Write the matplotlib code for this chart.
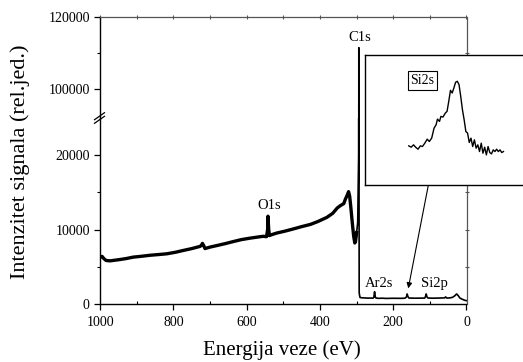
import matplotlib
matplotlib.use("Agg")
import matplotlib.pyplot as plt
from matplotlib.ticker import FixedLocator, NullLocator
from matplotlib.lines import Line2D

plt.rcParams['font.family'] = ['Liberation Serif', 'DejaVu Serif']

# ---- data ----
energy = [1000, 995, 990, 984, 973, 950, 930, 910, 890, 864, 840, 818, 795, 773,
          750, 727, 723, 721, 717, 714, 700, 682, 660, 636, 615, 591, 570, 555,
          546, 543, 542, 540, 538, 530, 517, 495, 472, 450, 426, 405, 381, 365,
          353, 345, 340, 335, 331, 326, 322, 319, 316, 312, 308, 305, 303, 300,
          297, 294.5, 294, 293.5, 293, 291, 289, 280, 270, 262, 255, 253,
          251, 249, 247, 240, 230, 220, 200, 180, 168, 164, 162, 160, 157, 140,
          125, 114, 112, 110, 108, 105, 90, 75, 60, 57, 54, 45, 38, 32, 27, 23,
          18, 12, 5, 0]
intensity = [6300, 6400, 6100, 5850, 5800, 5950, 6100, 6300, 6400, 6550, 6650,
             6750, 6950, 7200, 7450, 7750, 7950, 8150, 7800, 7450, 7650, 7850,
             8100, 8400, 8650, 8850, 9000, 9100, 9050, 10000, 11800, 10000, 9200,
             9350, 9550, 9800, 10100, 10400, 10700, 11100, 11650, 12200, 12900,
             13200, 13350, 13500, 14050, 14600, 15100, 14500, 13100, 11000, 9100,
             8200, 8400, 9600, 11000, 20000, 111500, 20000, 1500, 900, 850, 820,
             790, 800, 790, 900, 1650, 950, 800, 760, 780, 750, 770, 760, 780,
             950, 1350, 1000, 800, 780, 790, 800, 1000, 1350, 950, 800, 780, 800,
             820, 950, 800, 820, 900, 1100, 1350, 1150, 800, 650, 500, 450]

si2s_x = [38, 45, 52, 58, 65, 72, 78, 85, 92, 98, 105, 112, 118, 122, 128, 132,
          138, 145, 150, 155, 160, 165, 170, 175, 180, 185, 190, 195, 200, 205,
          210, 215, 220, 225, 230, 235, 240, 245, 250, 255, 260, 265, 270, 275,
          280, 285, 290, 295, 300, 305, 310, 315]
si2s_y = [132, 128, 135, 128, 122, 132, 130, 140, 152, 145, 155, 185, 195, 212,
          205, 220, 218, 230, 235, 265, 298, 290, 305, 322, 325, 315, 280, 240,
          210, 175, 170, 142, 155, 130, 150, 125, 135, 115, 140, 110, 128, 105,
          130, 112, 108, 120, 115, 122, 115, 120, 112, 115]

xticks = [1000, 800, 600, 400, 200, 0]
yticks_low = [0, 10000, 20000]
yticks_up = [100000, 120000]
labels = {"O1s": (540, 12300), "C1s": (292, 112500), "Ar2s": (238, 1900), "Si2p": (87, 1900)}

# ---- figure ----
W, H = 523, 362
fig = plt.figure(figsize=(W / 100, H / 100), dpi=100)

def fx(px):
    return px / W

def fy(py):
    return (H - py) / H

left, right = 99.5, 466.5
top, brk, bottom = 17, 118, 304
ax_low = fig.add_axes([fx(left), fy(bottom), fx(right) - fx(left), fy(brk) - fy(bottom)])
ax_up = fig.add_axes([fx(left), fy(brk), fx(right) - fx(left), fy(top) - fy(brk)])

hi = [i for i, e in enumerate(energy) if e >= 300]
lo = [i for i, e in enumerate(energy) if e <= 300]
for ax in (ax_low, ax_up):
    ax.plot([energy[i] for i in hi], [intensity[i] for i in hi], color='black', lw=2.4,
            solid_joinstyle='round')
    ax.plot([energy[i] for i in lo], [intensity[i] for i in lo], color='black', lw=1.2)
    ax.set_xlim(1002, 0)

ax_low.set_ylim(0, 25000)
ax_up.set_ylim(92000, 120000)

grey = '#555555'
# lower axes
ax_low.spines['top'].set_visible(False)
ax_low.spines['right'].set_color(grey)
ax_low.set_xticks(xticks)
ax_low.set_xticklabels([str(t) for t in xticks])
ax_low.xaxis.set_minor_locator(FixedLocator([900, 700, 500, 300, 100]))
ax_low.set_yticks(yticks_low)
ax_low.set_yticklabels([str(t) for t in yticks_low])
ax_low.yaxis.set_minor_locator(FixedLocator([5000, 15000]))
ax_low.tick_params(axis='both', which='major', direction='out', length=4, width=0.9,
                   labelsize=10, pad=3)
ax_low.tick_params(axis='x', which='minor', direction='in', length=2.5, width=0.8)
ax_low.tick_params(axis='y', which='minor', direction='out', length=2.5, width=0.8)
ax_low.tick_params(axis='x', pad=5)

# upper axes
ax_up.spines['bottom'].set_visible(False)
ax_up.spines['top'].set_color(grey)
ax_up.spines['right'].set_color(grey)
ax_up.set_xticks([])
ax_up.set_yticks(yticks_up)
ax_up.set_yticklabels([str(t) for t in yticks_up])
ax_up.yaxis.set_minor_locator(FixedLocator([110000]))
ax_up.tick_params(axis='y', which='major', direction='out', length=4, width=0.9,
                  labelsize=10, pad=3)
ax_up.tick_params(axis='y', which='minor', direction='out', length=2.5, width=0.8)

for ax in (ax_low, ax_up):
    ax.spines['left'].set_linewidth(1.0)
    ax.spines['bottom'].set_linewidth(1.0)
    ax.spines['right'].set_linewidth(0.9)
    ax.spines['top'].set_linewidth(0.9)

# top / right mirrored ticks (grey, small)
secx = ax_up.secondary_xaxis('top')
secx.set_xticks(list(range(1000, -1, -100)))
secx.set_xticklabels([])
secx.tick_params(direction='inout', length=3, width=0.8, color=grey)
secx.spines['top'].set_visible(False)
secr = ax_low.secondary_yaxis('right')
secr.set_yticks([5000, 10000, 15000, 20000])
secr.set_yticklabels([])
secr.tick_params(direction='inout', length=3, width=0.8, color=grey)
secr.spines['right'].set_visible(False)
secr2 = ax_up.secondary_yaxis('right')
secr2.set_yticks([100000, 110000])
secr2.set_yticklabels([])
secr2.tick_params(direction='inout', length=3, width=0.8, color=grey)
secr2.spines['right'].set_visible(False)

# break marks on the left axis
for dy in (-1.8, 1.8):
    fig.add_artist(Line2D([fx(left - 5), fx(left + 5)], [fy(brk + 3.5 + dy), fy(brk - 3.5 + dy)],
                          color='black', lw=0.9))

# peak labels
for name, (e, v) in labels.items():
    ax = ax_up if v > 50000 else ax_low
    ax.text(e, v, name, ha='center', va='bottom', fontsize=10.5)

# axis labels
fig.text(fx(282), fy(350), 'Energija veze (eV)', ha='center', va='center', fontsize=15)
fig.text(fx(20), fy(162), 'Intenzitet signala (rel.jed.)', ha='center', va='center',
         rotation=90, fontsize=16)

# inset
ix0, ix1, iy0, iy1 = 365, 525, 54.5, 185
ins = fig.add_axes([fx(ix0), fy(iy1), fx(ix1) - fx(ix0), fy(iy0) - fy(iy1)], zorder=5)
ins.set_facecolor('white')
ins.plot(si2s_x, si2s_y, color='black', lw=1.0)
ins.set_xlim(-90, 378)
ins.set_ylim(15, 405)
ins.xaxis.set_major_locator(NullLocator())
ins.yaxis.set_major_locator(NullLocator())
for s in ins.spines.values():
    s.set_linewidth(1.0)
ins.text(0.36, 0.8, 'Si2s', transform=ins.transAxes, ha='center', va='center',
         fontsize=10, bbox=dict(boxstyle='square,pad=0.2', fc='white', ec='black', lw=0.8))

# arrow from inset to the Si2s region of the spectrum
ax_low.annotate('', xy=(159, 2100), xycoords='data', xytext=(0.396, 0.0),
                textcoords=ins.transAxes,
                arrowprops=dict(arrowstyle='-|>', color='black', lw=0.8,
                                shrinkA=0, shrinkB=0, mutation_scale=8))

fig.savefig('out.png', dpi=100)
